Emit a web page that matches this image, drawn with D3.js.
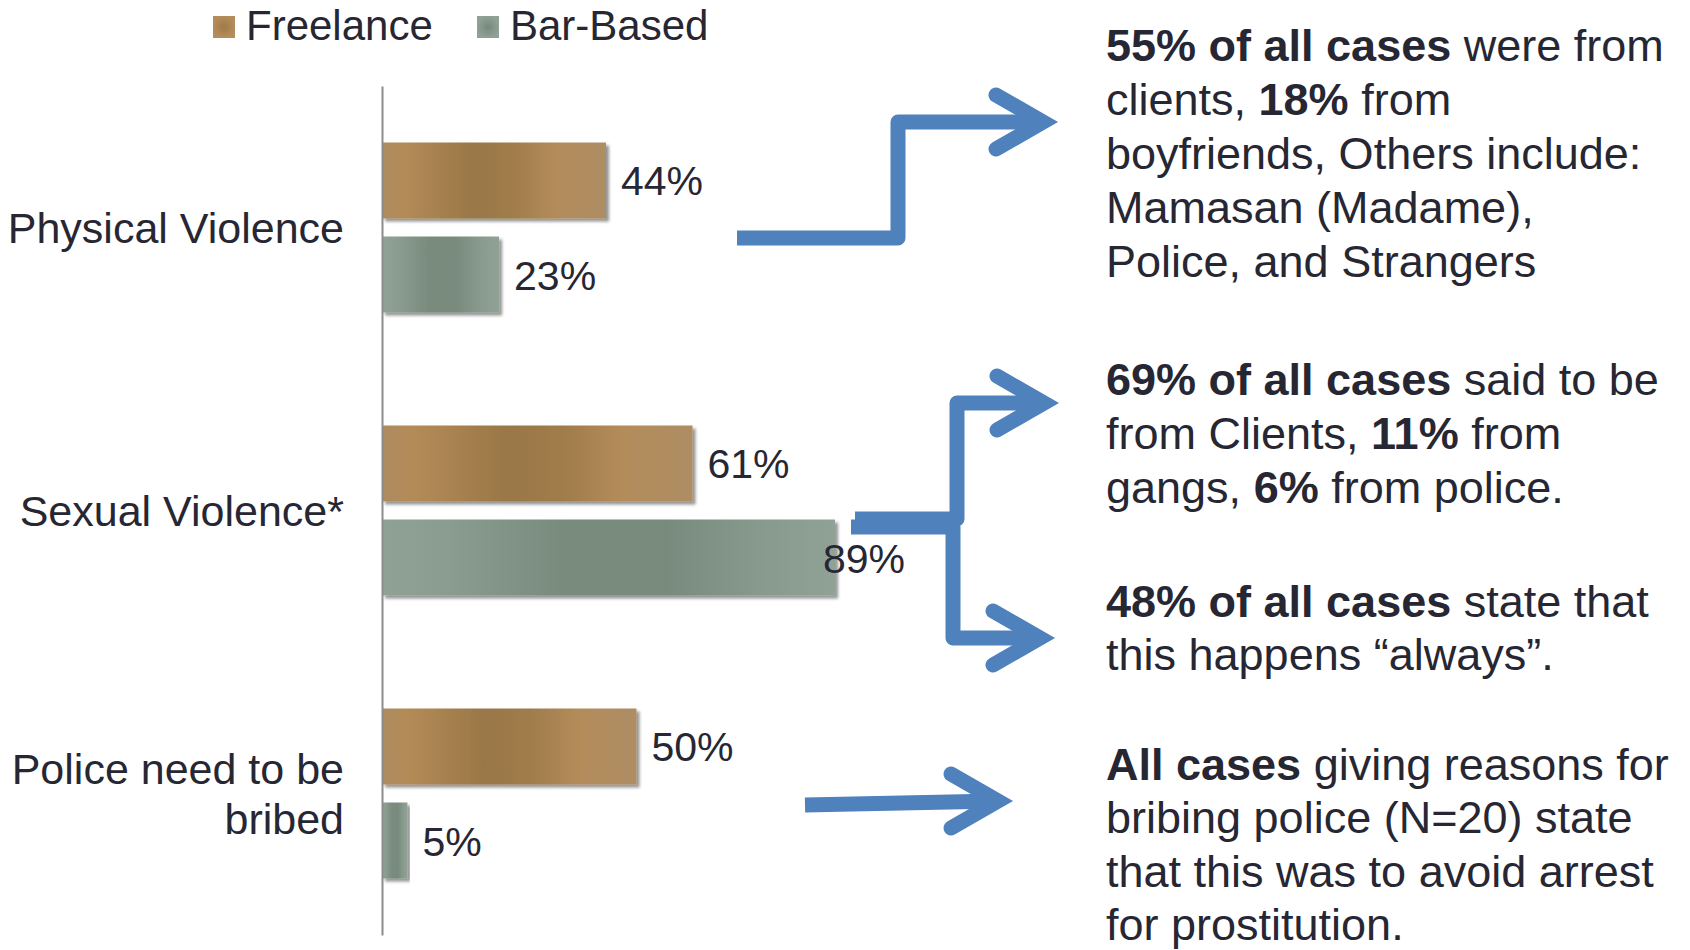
<!DOCTYPE html>
<html>
<head>
<meta charset="utf-8">
<script src="https://cdn.jsdelivr.net/npm/d3@7"></script>
<style>
  body { margin: 0; background: #fff; }
  svg text { font-family: "Liberation Sans", Arial, sans-serif; fill: #272733; }
</style>
</head>
<body>
<div id="chart"></div>
<script>
// chart data
const categories = ["Physical Violence", "Sexual Violence*", "Police need to be\nbribed"];
const seriesNames = ["Freelance", "Bar-Based"];
const freelance = [44, 61, 50];
const barBased = [23, 89, 5];

// side notes, each line is a list of [text, bold]
const note1 = [
  [["55% of all cases", true], [" were from", false]],
  [["clients, ", false], ["18%", true], [" from", false]],
  [["boyfriends, Others include:", false]],
  [["Mamasan (Madame),", false]],
  [["Police, and Strangers", false]]
];
const note2 = [
  [["69% of all cases", true], [" said to be", false]],
  [["from Clients, ", false], ["11%", true], [" from", false]],
  [["gangs, ", false], ["6%", true], [" from police.", false]]
];
const note3 = [
  [["48% of all cases", true], [" state that", false]],
  [["this happens \u201calways\u201d.", false]]
];
const note4 = [
  [["All cases", true], [" giving reasons for", false]],
  [["bribing police (N=20) state", false]],
  [["that this was to avoid arrest", false]],
  [["for prostitution.", false]]
];

const svgWidth = 1690,
      svgHeight = 950;

const margin = {top: 86, left: 382, bottom: 15};

const svg = d3.select("#chart")
  .append("svg")
  .attr("width", svgWidth)
  .attr("height", svgHeight);

const defs = svg.append("defs");

// bar fills
const gradFree = defs.append("linearGradient").attr("id", "gFree");
[["0%", "#ad8b60"], ["10%", "#b38b57"], ["40%", "#9a7747"], ["58%", "#a07c4b"], ["78%", "#b38c5a"], ["100%", "#ae8d64"]]
  .forEach(s => gradFree.append("stop").attr("offset", s[0]).attr("stop-color", s[1]));

const gradBar = defs.append("linearGradient").attr("id", "gBar");
[["0%", "#90a295"], ["15%", "#8a9c8f"], ["40%", "#788b7d"], ["62%", "#778a7c"], ["85%", "#899b8e"], ["100%", "#90a295"]]
  .forEach(s => gradBar.append("stop").attr("offset", s[0]).attr("stop-color", s[1]));

const radFree = defs.append("radialGradient").attr("id", "rFree");
radFree.append("stop").attr("offset", "0%").attr("stop-color", "#9e7a4a");
radFree.append("stop").attr("offset", "100%").attr("stop-color", "#b48d5a");
const radBar = defs.append("radialGradient").attr("id", "rBar");
radBar.append("stop").attr("offset", "0%").attr("stop-color", "#76897b");
radBar.append("stop").attr("offset", "100%").attr("stop-color", "#8fa195");

defs.append("filter")
  .attr("id", "shadow")
  .attr("x", "-5%").attr("y", "-10%")
  .attr("width", "115%").attr("height", "130%")
  .append("feDropShadow")
  .attr("dx", 3).attr("dy", 3)
  .attr("stdDeviation", 1.4)
  .attr("flood-color", "#000")
  .attr("flood-opacity", 0.42);

const fills = ["url(#gFree)", "url(#gBar)"];
const legendFills = ["url(#rFree)", "url(#rBar)"];

// scales
const x = d3.scaleLinear()
  .domain([0, 100])
  .range([margin.left, margin.left + 509]);

const y = d3.scaleBand()
  .domain(categories)
  .range([margin.top, svgHeight - margin.bottom]);

const ySub = d3.scaleBand()
  .domain(seriesNames)
  .range([0, y.bandwidth()])
  .paddingInner(0.1915)
  .paddingOuter(0.601);

const rows = categories.map((c, i) => ({
  cat: c,
  values: [
    {name: seriesNames[0], value: freelance[i]},
    {name: seriesNames[1], value: barBased[i]}
  ]
}));

// bars
const groups = svg.append("g")
  .selectAll("g")
  .data(rows)
  .enter()
  .append("g")
  .attr("transform", d => `translate(0, ${y(d.cat)})`);

groups.selectAll("rect")
  .data(d => d.values)
  .enter()
  .append("rect")
  .attr("x", x(0))
  .attr("y", d => ySub(d.name))
  .attr("width", d => x(d.value) - x(0))
  .attr("height", ySub.bandwidth())
  .attr("fill", (d, i) => fills[i])
  .attr("filter", "url(#shadow)");

// value labels (the long one is pulled back onto the bar end)
const labelMaxX = 823;
groups.selectAll("text.val")
  .data(d => d.values)
  .enter()
  .append("text")
  .attr("class", "val")
  .attr("x", d => Math.min(x(d.value) + 15, labelMaxX))
  .attr("y", d => ySub(d.name) + ySub.bandwidth() / 2 + 15)
  .style("font-size", "41px")
  .text(d => d.value + "%");

// axis
const yAxis = svg.append("g")
  .attr("transform", `translate(${x(0)}, 0)`)
  .call(d3.axisLeft(y).tickSize(0).tickSizeOuter(0).tickFormat(""));

yAxis.select(".domain")
  .attr("stroke", "#8c8c8c")
  .attr("stroke-width", 2);

// category labels
svg.append("g")
  .selectAll("text")
  .data(categories)
  .enter()
  .append("text")
  .attr("text-anchor", "end")
  .style("font-size", "43px")
  .each(function(d) {
    const lines = d.split("\n");
    const mid = y(d) + y.bandwidth() / 2 + 15.5;
    lines.forEach((t, i) => {
      d3.select(this).append("tspan")
        .attr("x", 344)
        .attr("y", mid + (i - (lines.length - 1) / 2) * 49.5)
        .text(t);
    });
  });

// legend
const legend = svg.append("g");
const legendX = [213, 477];
seriesNames.forEach((s, i) => {
  legend.append("rect")
    .attr("x", legendX[i])
    .attr("y", 16)
    .attr("width", 22)
    .attr("height", 22)
    .attr("fill", legendFills[i]);
  legend.append("text")
    .attr("x", legendX[i] + 33)
    .attr("y", 40)
    .style("font-size", "42px")
    .text(s);
});

// notes on the right
function drawNote(lines, top, step) {
  const g = svg.append("g")
    .attr("transform", "translate(1106, 0)");
  lines.forEach((segs, i) => {
    const t = g.append("text")
      .attr("x", 0)
      .attr("y", top + i * step)
      .style("font-size", "45px");
    segs.forEach(s => {
      t.append("tspan")
        .style("font-weight", s[1] ? "bold" : "normal")
        .text(s[0]);
    });
  });
}

drawNote(note1, 61, 54);
drawNote(note2, 395, 54);
drawNote(note3, 617, 53);
drawNote(note4, 780, 53.4);

// arrows
const arrowColor = "#4f81bd";
const arrows = [
  {path: [[737, 238], [898, 238], [898, 122], [1043, 122]]},
  {path: [[855, 519], [957, 519], [957, 403], [1044, 403]]},
  {path: [[851, 527], [953, 527], [953, 638], [1040, 638]]},
  {path: [[805, 805], [998, 801]]}
];

const line = d3.line();
const arrowG = svg.append("g");

arrows.forEach(a => {
  arrowG.append("path")
    .attr("d", line(a.path))
    .attr("fill", "none")
    .attr("stroke", arrowColor)
    .attr("stroke-width", 15)
    .attr("stroke-linejoin", "round")
    .attr("stroke-linecap", "butt");
  const tip = a.path[a.path.length - 1];
  arrowG.append("path")
    .attr("d", line([[tip[0] - 47, tip[1] - 27], tip, [tip[0] - 47, tip[1] + 27]]))
    .attr("fill", "none")
    .attr("stroke", arrowColor)
    .attr("stroke-width", 15)
    .attr("stroke-linejoin", "miter")
    .attr("stroke-miterlimit", 6)
    .attr("stroke-linecap", "round");
});
</script>
</body>
</html>
